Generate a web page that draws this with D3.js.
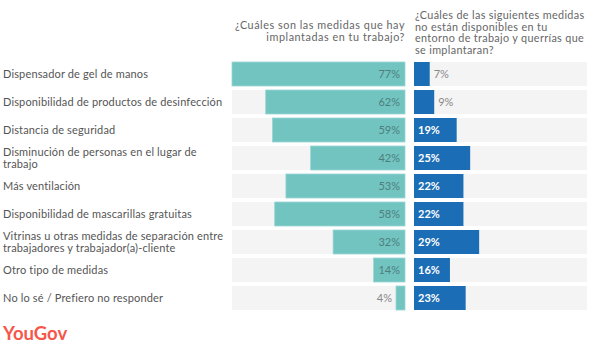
<!DOCTYPE html>
<html>
<head>
<meta charset="utf-8">
<script src="https://cdn.jsdelivr.net/npm/d3@7"></script>
<style>
  body { margin: 0; background: #fff; }
  text { font-family: Lato, "Open Sans", sans-serif; }
</style>
</head>
<body>
<div id="chart"></div>
<script>
// categories and values
const categories = [
    ["Dispensador de gel de manos"],
    ["Disponibilidad de productos de desinfección"],
    ["Distancia de seguridad"],
    ["Disminución de personas en el lugar de", "trabajo"],
    ["Más ventilación"],
    ["Disponibilidad de mascarillas gratuitas"],
    ["Vitrinas u otras medidas de separación entre", "trabajadores y trabajador(a)-cliente"],
    ["Otro tipo de medidas"],
    ["No lo sé / Prefiero no responder"]
];
const implantadas = [77, 62, 59, 42, 53, 58, 32, 14, 4];
const querrian = [7, 9, 19, 25, 22, 22, 29, 16, 23];
const leftTitle = ["¿Cuáles son las medidas que hay", "implantadas en tu trabajo?"];
const rightTitle = ["¿Cuáles de las siguientes medidas", "no están disponibles en tu",
    "entorno de trabajo y querrías que", "se implantaran?"];

const width = 602, height = 350;
const svg = d3.select("#chart").append("svg")
    .attr("width", width)
    .attr("height", height);

const idx = d3.range(categories.length);

const y = d3.scaleBand()
    .domain(idx)
    .range([62, 310])
    .paddingInner(1 / 7)
    .paddingOuter(0);

const xLeft = d3.scaleLinear().domain([0, 77]).range([405, 232]);
const xRight = d3.scaleLinear().domain([0, 77]).range([414, 587]);

// titles
svg.append("text")
    .attr("text-anchor", "end")
    .attr("font-size", 10.8)
    .attr("letter-spacing", 0.55)
    .attr("fill", "#666")
    .selectAll("tspan")
    .data(leftTitle)
    .enter().append("tspan")
    .attr("x", 405)
    .attr("y", (d, i) => 29 + i * 11.5)
    .text(d => d);

svg.append("text")
    .attr("font-size", 10.8)
    .attr("letter-spacing", 0.35)
    .attr("fill", "#666")
    .selectAll("tspan")
    .data(rightTitle)
    .enter().append("tspan")
    .attr("x", 415)
    .attr("y", (d, i) => 19 + i * 11.5)
    .text(d => d);

// row labels
const labels = svg.selectAll(".row-label")
    .data(idx)
    .enter().append("text")
    .attr("class", "row-label")
    .attr("font-size", 11)
    .attr("letter-spacing", 0.15)
    .attr("fill", "#555");

labels.selectAll("tspan")
    .data(i => categories[i].map((t, j) => ({t, j, i, n: categories[i].length})))
    .enter().append("tspan")
    .attr("x", 3)
    .attr("y", d => y(d.i) + y.bandwidth() / 2 + 4 + (d.j - (d.n - 1) / 2) * 12)
    .text(d => d.t);

// backgrounds
svg.selectAll(".bg-left")
    .data(idx)
    .enter().append("rect")
    .attr("x", xLeft(77))
    .attr("y", i => y(i))
    .attr("width", xLeft(0) - xLeft(77))
    .attr("height", y.bandwidth())
    .attr("fill", "#f4f4f4");

svg.selectAll(".bg-right")
    .data(idx)
    .enter().append("rect")
    .attr("x", xRight(0))
    .attr("y", i => y(i))
    .attr("width", xRight(77) - xRight(0))
    .attr("height", y.bandwidth())
    .attr("fill", "#f4f4f4");

// left bars
svg.selectAll(".bar-left")
    .data(idx)
    .enter().append("rect")
    .attr("x", i => xLeft(implantadas[i]))
    .attr("y", i => y(i))
    .attr("width", i => xLeft(0) - xLeft(implantadas[i]))
    .attr("height", y.bandwidth())
    .attr("fill", "#72c4c1")
    .attr("stroke", "#9ad6d3")
    .attr("stroke-width", 0.8);

svg.selectAll(".val-left")
    .data(idx)
    .enter().append("text")
    .attr("x", i => {
        const w = xLeft(0) - xLeft(implantadas[i]);
        return w > 26 ? xLeft(0) - 5 : xLeft(implantadas[i]) - 4;
    })
    .attr("y", i => y(i) + y.bandwidth() / 2 + 4)
    .attr("text-anchor", "end")
    .attr("font-size", 11)
    .attr("fill", i => (xLeft(0) - xLeft(implantadas[i]) > 26 ? "#4f7f7d" : "#888"))
    .text(i => implantadas[i] + "%");

// right bars
svg.selectAll(".bar-right")
    .data(idx)
    .enter().append("rect")
    .attr("x", xRight(0))
    .attr("y", i => y(i))
    .attr("width", i => xRight(querrian[i]) - xRight(0))
    .attr("height", y.bandwidth())
    .attr("fill", "#1b6db5");

svg.selectAll(".val-right")
    .data(idx)
    .enter().append("text")
    .attr("x", i => {
        const w = xRight(querrian[i]) - xRight(0);
        return w > 26 ? xRight(0) + 4 : xRight(querrian[i]) + 4;
    })
    .attr("y", i => y(i) + y.bandwidth() / 2 + 4)
    .attr("font-size", 11)
    .attr("font-weight", i => (xRight(querrian[i]) - xRight(0) > 26 ? "bold" : "normal"))
    .attr("fill", i => (xRight(querrian[i]) - xRight(0) > 26 ? "#fff" : "#888"))
    .text(i => querrian[i] + "%");

// logo
svg.append("text")
    .attr("x", 3)
    .attr("y", 340)
    .attr("font-size", 18.5)
    .attr("font-weight", "bold")
    .attr("fill", "#f5574a")
    .text("YouGov");
</script>
</body>
</html>
